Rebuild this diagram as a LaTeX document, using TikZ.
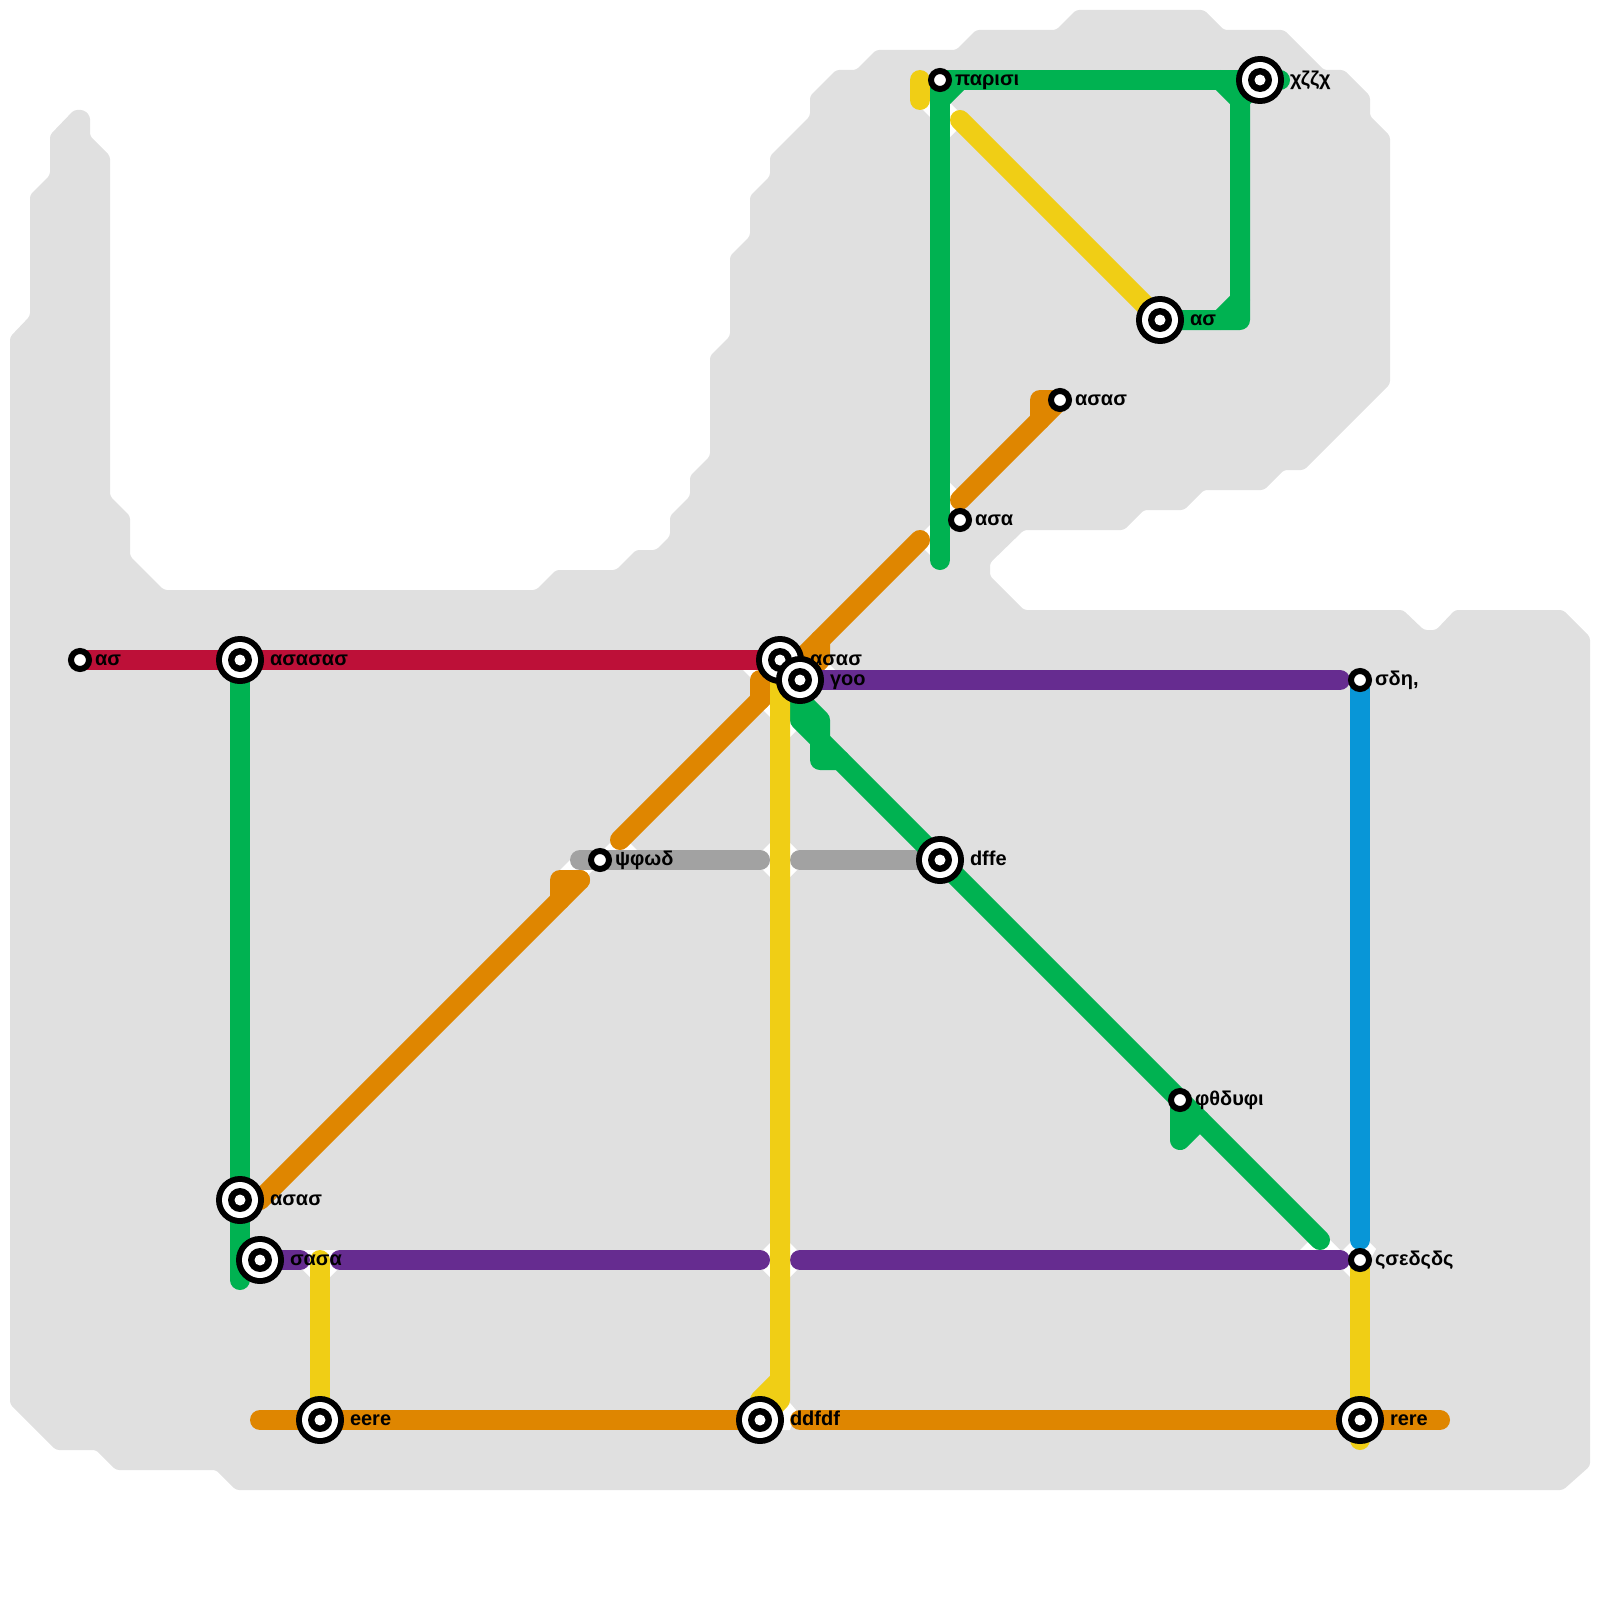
\documentclass[tikz,border=0pt]{standalone}
\usepackage{fontspec}
\setmainfont{Liberation Sans}
\definecolor{mred}{HTML}{BD1038}
\definecolor{mgreen}{HTML}{00B251}
\definecolor{morange}{HTML}{DF8600}
\definecolor{myellow}{HTML}{F0CE15}
\definecolor{mpurple}{HTML}{662C90}
\definecolor{mblue}{HTML}{0896D7}
\definecolor{mgray}{HTML}{A2A2A2}
\definecolor{mback}{HTML}{E0E0E0}
\pgfdeclarelayer{under}
\pgfsetlayers{under,main}
\tikzset{
  railline/.style={line width=20pt,line cap=round,line join=round},
  bigst/.style={circle,fill=black,minimum size=48pt,inner sep=0pt,outer sep=0pt,
    path picture={
      \fill[white] (0,0) circle (18pt);
      \fill[black] (0,0) circle (12pt);
      \fill[white] (0,0) circle (5.5pt);}},
  smallst/.style={circle,fill=white,draw=black,line width=6pt,minimum size=18pt,inner sep=0pt,outer sep=0pt},
  lbl/.style={anchor=base west,inner sep=0pt,outer sep=0pt,text=black,font=\fontsize{20}{24}\selectfont\bfseries},
  halo/.style={fill=white,draw=none},
}
\newcommand{\gapmark}[3]{\fill[halo] (#1-#3,#2) -- (#1,#2-#3) -- (#1+#3,#2) -- (#1,#2+#3) -- cycle;}
\begin{document}
\begin{tikzpicture}[x=1pt,y=-1pt]
\useasboundingbox (0,0) rectangle (1600,1600);
% stations
\node[smallst] (sA) at (80,660) {};
\node[bigst] (sB) at (240,660) {};
\node[bigst] (sC) at (780,660) {};
\node[bigst] (sD) at (800,680) {};
\node[bigst] (sE) at (240,1200) {};
\node[bigst] (sF) at (260,1260) {};
\node[bigst] (sG) at (320,1420) {};
\node[bigst] (sH) at (760,1420) {};
\node[bigst] (sI) at (1360,1420) {};
\node[smallst] (sJ) at (600,860) {};
\node[bigst] (sK) at (940,860) {};
\node[smallst] (sL) at (1180,1100) {};
\node[smallst] (sM) at (1360,680) {};
\node[smallst] (sN) at (1360,1260) {};
\node[smallst] (sO) at (940,80) {};
\node[bigst] (sP) at (1260,80) {};
\node[bigst] (sQ) at (1160,320) {};
\node[smallst] (sR) at (1060,400) {};
\node[smallst] (sS) at (960,520) {};
% labels
\node[lbl] (tA) at (95,665.5) {ασ};
\node[lbl] (tB) at (270,665.5) {ασασασ};
\node[lbl] (tC) at (810,665.5) {ασασ};
\node[lbl] (tD) at (830,685.5) {γοο};
\node[lbl] (tE) at (270,1205.5) {ασασ};
\node[lbl] (tF) at (290,1265.5) {σασα};
\node[lbl] (tG) at (350,1425.5) {eere};
\node[lbl] (tH) at (790,1425.5) {ddfdf};
\node[lbl] (tI) at (1390,1425.5) {rere};
\node[lbl] (tJ) at (615,865.5) {ψφωδ};
\node[lbl] (tK) at (970,865.5) {dffe};
\node[lbl] (tL) at (1195,1105.5) {φθδυφι};
\node[lbl] (tM) at (1375,685.5) {σδη,};
\node[lbl] (tN) at (1375,1265.5) {ςσεδςδς};
\node[lbl] (tO) at (955,85.5) {παρισι};
\node[lbl] (tP) at (1290,85.5) {χζζχ};
\node[lbl] (tQ) at (1190,325.5) {ασ};
\node[lbl] (tR) at (1075,405.5) {ασασ};
\node[lbl] (tS) at (975,525.5) {ασα};
% route points
\coordinate (o0) at (260,1200);
\coordinate (o1) at (560,900); \coordinate (o2) at (560,880); \coordinate (o3) at (580,880);
\coordinate (o4) at (620,840); \coordinate (o5) at (760,700); \coordinate (o6) at (760,680); \coordinate (o7) at (780,680);
\coordinate (o8) at (920,540); \coordinate (o8b) at (800,660); \coordinate (o9) at (820,640); \coordinate (o10) at (820,660);
\coordinate (o11) at (960,500); \coordinate (o12) at (1040,420); \coordinate (o13) at (1040,400);
\coordinate (o14) at (260,1420); \coordinate (o15) at (800,1420); \coordinate (o16) at (1440,1420);
\coordinate (g1) at (240,1280);
\coordinate (g2) at (940,560); \coordinate (g3) at (940,100); \coordinate (g4) at (960,80);
\coordinate (g5) at (1280,80); \coordinate (g6) at (1220,80); \coordinate (g7) at (1240,100);
\coordinate (g8) at (1240,300); \coordinate (g9) at (1220,320); \coordinate (g10) at (1240,320);
\coordinate (g11) at (800,720); \coordinate (g12) at (800,700); \coordinate (g13) at (820,720);
\coordinate (g14) at (820,760); \coordinate (g15) at (840,760); \coordinate (g16) at (1320,1240);
\coordinate (g17) at (1180,1140); \coordinate (g18) at (1200,1120);
\coordinate (p1) at (300,1260); \coordinate (p2) at (340,1260); \coordinate (p3) at (760,1260);
\coordinate (p4) at (800,1260); \coordinate (p5) at (1340,1260); \coordinate (p6) at (1340,680);
\coordinate (n1) at (760,860); \coordinate (n2) at (800,860);
\coordinate (y1) at (780,680); \coordinate (y2) at (780,1400); \coordinate (y3) at (780,1380); \coordinate (y4) at (760,1400);
\coordinate (y5) at (320,1260); \coordinate (y6) at (1360,1440);
\coordinate (y7) at (920,80); \coordinate (y8) at (920,100); \coordinate (y9) at (960,120);
\coordinate (b1) at (1360,1240);
\begin{pgfonlayer}{under}
% land
\fill[mback,rounded corners=3pt] (10,337) -- (30,316) -- (30,195) -- (50,175) -- (50,135) -- (74,110) -- (84,110) -- (90,116) -- (90,136) -- (110,156) -- (110,496) -- (130,516) -- (130,556) -- (164,590)
 -- (536,590) -- (556,570) -- (616,570) -- (636,550) -- (656,550) -- (670,536) -- (670,516) -- (690,496) -- (690,476) -- (710,456) -- (710,356) -- (730,336) -- (730,256) -- (750,236) -- (750,196) -- (770,176) -- (770,156) -- (810,116) -- (810,96) -- (836,70) -- (856,70) -- (876,50) -- (956,50) -- (976,30) -- (1056,30) -- (1076,10) -- (1204,10) -- (1224,30) -- (1284,30) -- (1324,70) -- (1344,70) -- (1370,96) -- (1370,116) -- (1390,136) -- (1390,384) -- (1304,470) -- (1284,470) -- (1264,490) -- (1204,490) -- (1184,510) -- (1144,510) -- (1124,530) -- (1024,530) -- (990,563) -- (990,576) -- (1024,610) -- (1403,610) -- (1424,630) -- (1436,630) -- (1455,610) -- (1563,610) -- (1590,637) -- (1590,1466) -- (1563,1490) -- (236,1490) -- (216,1470) -- (116,1470) -- (96,1450) -- (56,1450) -- (10,1404) -- cycle;
% white gaps at crossings
\gapmark{780}{860}{27}
\gapmark{780}{1260}{27}
\fill[halo] (303,1250) -- (337,1250) -- (347,1260) -- (320,1287) -- (293,1260) -- cycle;
\fill[halo] (1333,1260) -- (1360,1233) -- (1376,1249) -- (1370,1260) -- (1360,1287) -- cycle;
\fill[halo] (1300,1250) -- (1320,1230) -- (1340,1250) -- cycle;
\fill[halo] (770,1396) -- (790,1403) -- (796,1410) -- (790,1430) -- (770,1430) -- cycle;
\gapmark{930}{540}{15}
\gapmark{950}{500}{17}
\gapmark{930}{100}{17}
\gapmark{950}{120}{17}
\gapmark{770}{700}{17}
\gapmark{790}{720}{17}
\gapmark{760}{670}{17}
\gapmark{820}{670}{15}
\gapmark{620}{850}{17}
\gapmark{575}{870}{15}
\gapmark{585}{870}{8}
% lines
\draw[railline,morange] (o0) -- (o3);
\draw[railline,morange] (o1) -- (o2) -- (o3);
\draw[railline,morange] (o4) -- (o7);
\draw[railline,morange] (o5) -- (o6) -- (o7);
\draw[railline,morange] (o8) -- (o8b);
\draw[railline,morange] (o9) -- (o10) -- (sD.center);
\draw[railline,morange] (o11) -- (sR.center);
\draw[railline,morange] (o12) -- (o13) -- (sR.center);
\draw[railline,morange] (o14) -- (sH.center);
\draw[railline,morange] (o15) -- (o16);
\draw[railline,mred] (sA.center) -- (sC.center);
\draw[railline,mgray] (o3 |- sJ.center) -- (n1);
\draw[railline,mgray] (n2) -- (sK.center);
\draw[railline,mpurple] (sD.center) -- (p6);
\draw[railline,mpurple] (sF.center) -- (p1);
\draw[railline,mpurple] (p2) -- (p3);
\draw[railline,mpurple] (p4) -- (p5);
\draw[railline,mgreen] (sB.center) -- (g1);
\draw[railline,mgreen] (g2) -- (sO.center) -- (g5);
\draw[railline,mgreen] (g3) -- (g4);
\draw[railline,mgreen] (g6) -- (g7);
\draw[railline,mgreen] (sP.center) -- (g7) -- (g10) -- (sQ.center);
\draw[railline,mgreen] (g8) -- (g9);
\draw[railline,mgreen] (sD.center) -- (g11) -- (g16);
\draw[railline,mgreen] (g12) -- (g13) -- (g14) -- (g15);
\draw[railline,mgreen] (sL.center) -- (g17) -- (g18);
\draw[railline,myellow] (y1) -- (y2) -- (sH.center);
\draw[railline,myellow] (y3) -- (y4) -- (sH.center);
\draw[railline,myellow] (y5) -- (sG.center);
\draw[railline,myellow] (sN.center) -- (y6);
\draw[railline,myellow] (y7) -- (y8);
\draw[railline,myellow] (y9) -- (sQ.center);
\draw[railline,mblue] (sM.center) -- (b1);
\end{pgfonlayer}
\end{tikzpicture}
\end{document}
